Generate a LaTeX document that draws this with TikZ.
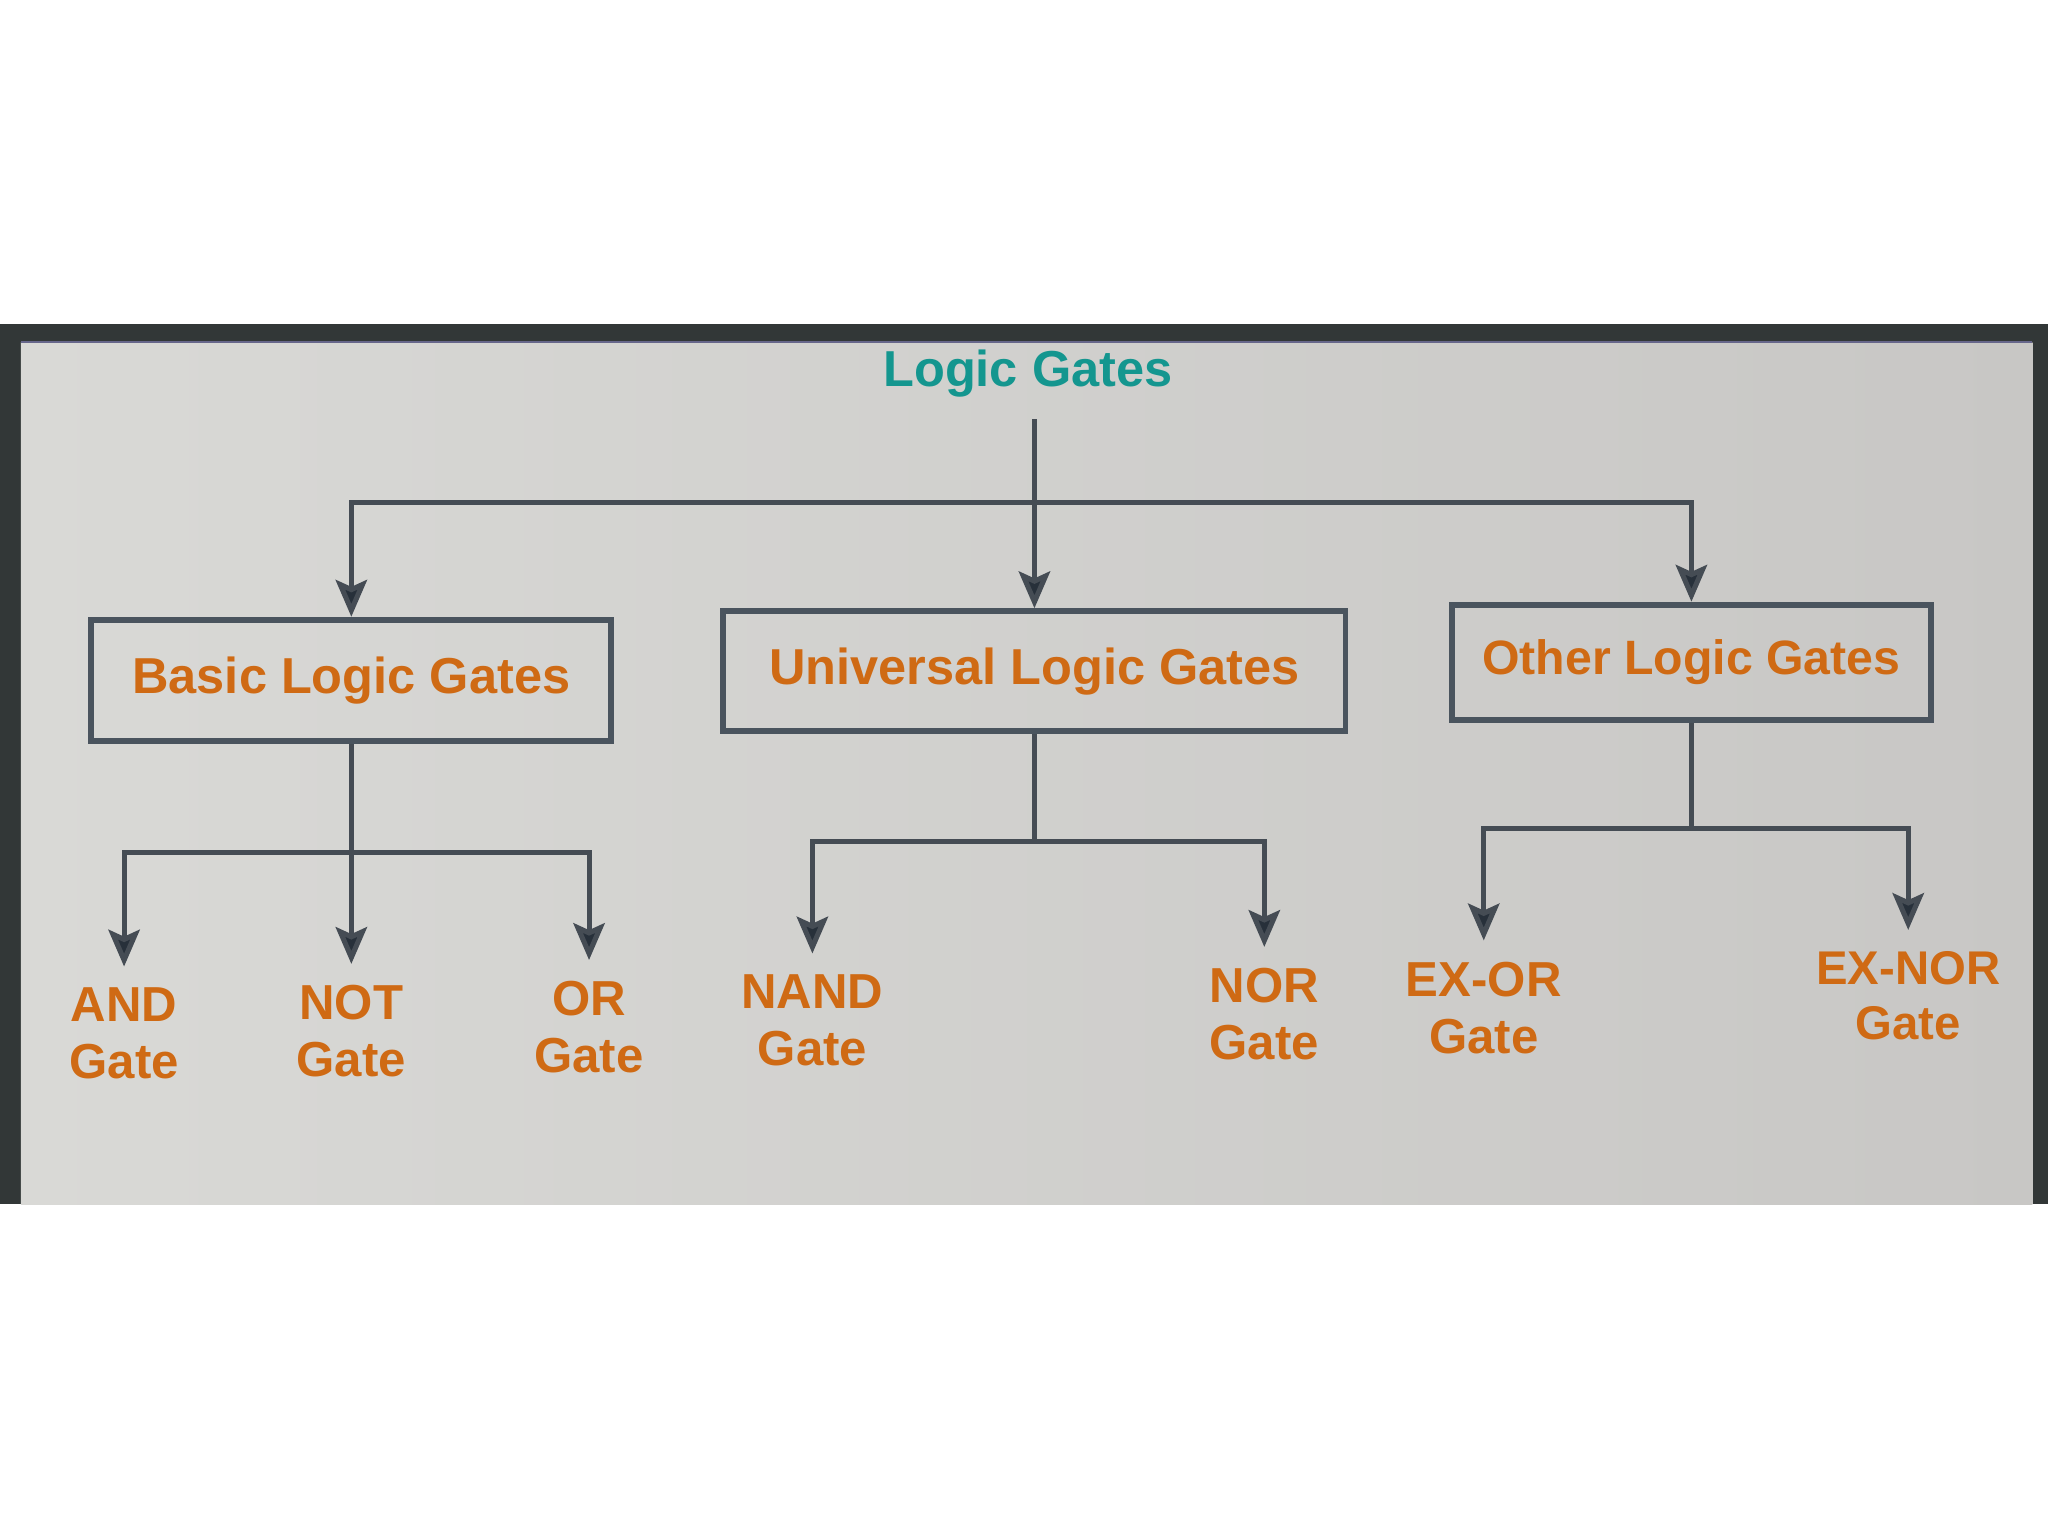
\documentclass[tikz,border=0pt]{standalone}
\usepackage{fontspec}
\setmainfont{Liberation Sans}
\usetikzlibrary{arrows.meta,calc}
\definecolor{gateorange}{HTML}{CF6A14}
\definecolor{titleteal}{HTML}{14968F}
\definecolor{boxline}{HTML}{4A545E}
\definecolor{linkline}{HTML}{454C54}
\definecolor{tipfill}{HTML}{27303A}
\definecolor{framedark}{HTML}{323737}
\definecolor{panelL}{HTML}{D9D9D6}
\definecolor{panelR}{HTML}{C8C7C5}
\tikzset{
  gatebox/.style={draw=boxline, line width=1.3pt, inner sep=0pt, text=gateorange,
    font=\fontsize{11}{13}\selectfont\bfseries},
  gatelbl/.style={text=gateorange, align=center, inner sep=4.5pt, anchor=north,
    font=\fontsize{10.7}{12.4}\selectfont\bfseries},
  link/.style={draw=linkline, line width=1.1pt},
  arr/.style={link, -{Stealth[length=8pt,width=6.8pt,inset=1.5pt,fill=tipfill]}}
}
\begin{document}
\begin{tikzpicture}[x=0.01cm,y=-0.01cm]
% canvas and screen
\fill[white] (0,0) rectangle (1568,1176);
\useasboundingbox (0,0) rectangle (1568,1176);
\fill[framedark] (0,248) rectangle (1568,922);
\shade[left color=panelL, right color=panelR] (16,262) rectangle (1556,922);
\draw[color=black!30!blue!20!gray, line width=0.5pt] (16,262) -- (1556,262);
% title
\node[text=titleteal, inner sep=4.6pt, font=\fontsize{11}{13}\selectfont\bfseries] (title) at (787,286) {Logic Gates};
% category boxes
\node[gatebox, minimum width=3.98cm, minimum height=0.93cm] (basic) at (269,521) {Basic Logic Gates};
\node[gatebox, minimum width=4.76cm, minimum height=0.92cm] (uni) at (792,514) {Universal Logic Gates};
\node[gatebox, minimum width=3.66cm, minimum height=0.88cm, font=\fontsize{10.5}{12.5}\selectfont\bfseries] (other) at (1295,507) {Other Logic Gates};
% gate labels
\node[gatelbl] (and) at (95,740) {AND\\Gate};
\node[gatelbl] (not) at (269,738) {NOT\\Gate};
\node[gatelbl] (or) at (451,735) {OR\\Gate};
\node[gatelbl] (nand) at (622,730) {NAND\\Gate};
\node[gatelbl] (nor) at (968,725) {NOR\\Gate};
\node[gatelbl] (exor) at (1136,720) {EX-OR\\Gate};
\node[gatelbl, font=\fontsize{10.3}{12}\selectfont\bfseries] (exnor) at (1461,712) {EX-NOR\\Gate};
% junctions
\coordinate (j0) at (uni.north |- 0,385);
\coordinate (j1) at (basic.south |- 0,653);
\coordinate (j2) at (uni.south |- 0,644);
\coordinate (j3) at (other.south |- 0,634);
% top level
\draw[arr] (uni.north |- title.south) -- (uni.north);
\draw[arr] (j0) -| (basic.north);
\draw[arr] (j0) -| (other.north);
% basic
\draw[arr] (basic.south) -- (not.north);
\draw[arr] (j1) -| (and.north);
\draw[arr] (j1) -| (or.north);
% universal
\draw[link] (uni.south) -- (j2);
\draw[arr] (j2) -| (nand.north);
\draw[arr] (j2) -| (nor.north);
% other
\draw[link] (other.south) -- (j3);
\draw[arr] (j3) -| (exor.north);
\draw[arr] (j3) -| (exnor.north);
\end{tikzpicture}
\end{document}
